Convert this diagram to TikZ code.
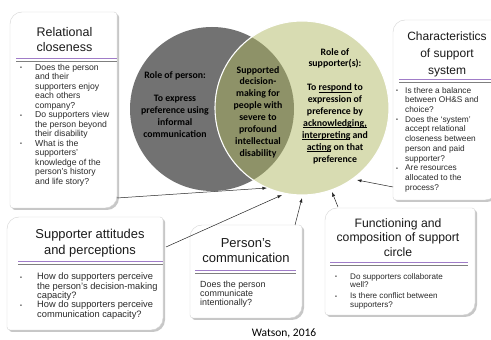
\documentclass[tikz,border=0pt]{standalone}
\usepackage{fontspec}
\setmainfont{Liberation Sans}
\newfontfamily\calfont{Carlito}
\usetikzlibrary{arrows.meta,shadows}
\definecolor{gcirc}{HTML}{727272}
\definecolor{ocirc}{HTML}{D8DCB2}
\definecolor{ovl}{HTML}{8E9268}
\definecolor{sepp}{HTML}{A07CC8}
\definecolor{sepg}{HTML}{7F7F7F}
\definecolor{txt}{HTML}{2A2A2A}
\definecolor{ttl}{HTML}{1A1A1A}
\definecolor{bord}{HTML}{D4D4D4}
\newcommand\bul{\raisebox{0.6pt}{\fontsize{5.5}{5.5}\selectfont\textbullet}}
\newcommand\uln[1]{\setbox0\hbox{#1}\rlap{\copy0}\rule[-1.4pt]{\wd0}{0.5pt}}
\newcommand\rbox[4]{%
  \path[boxst] (#1pt,{#4pt+3pt}) -- (#1pt,{#2pt-12pt})
    arc[start angle=180,end angle=90,radius=12pt] -- ({#3pt-3pt},#2pt)
    arc[start angle=90,end angle=0,radius=3pt] -- (#3pt,{#4pt+12pt})
    arc[start angle=0,end angle=-90,radius=12pt] -- ({#1pt+3pt},#4pt)
    arc[start angle=270,end angle=180,radius=3pt] -- cycle;}
\newcommand\sepline[3]{%
  \draw[sepp,line width=0.9pt] (#1pt,#3pt) -- (#2pt,#3pt);
  \draw[sepg,line width=0.9pt] (#1pt,{#3pt-3.5pt}) -- (#2pt,{#3pt-3.5pt});}
\tikzset{
  boxst/.style={fill=white,draw=bord,line width=0.4pt,
    drop shadow={shadow xshift=2pt,shadow yshift=-2pt,opacity=0.22,fill=black}},
  ctext/.style={align=center,inner sep=0pt,anchor=north,text=black,
    font=\calfont\bfseries\fontsize{9.8}{11.9}\selectfont},
  ttext/.style={align=center,inner sep=0pt,anchor=north,text=ttl},
  btext/.style={inner sep=0pt,anchor=north west,text=txt},
  conn/.style={draw=black!85,line width=0.5pt,-{Latex[length=4.5pt,width=3.2pt]}}
}
\begin{document}
\begin{tikzpicture}[x=1pt,y=1pt]
\useasboundingbox[fill=white] (0,0) rectangle (491,340);
% circles
\fill[gcirc] (212,231) circle[radius=82];
\fill[ocirc] (302,232) circle[radius=87];
\begin{scope}
  \clip (212,231) circle[radius=82];
  \fill[ovl] (302,232) circle[radius=87];
\end{scope}
\draw[white,line width=1.1pt] (302,232) circle[radius=87];
\node[ctext] (person) at (175,269) {Role of person:\\[11.9pt]To express\\preference using\\informal\\communication};
\node[ctext] (sdm) at (258,274) {Supported\\decision-\\making for\\people with\\severe to\\profound\\intellectual\\disability};
\node[ctext] (supp) at (335,292) {Role of\\supporter(s):\\[11.9pt]To \uln{respond} to\\expression of\\preference by\\\uln{acknowledging,}\\\uln{interpreting} and\\\uln{acting} on that\\preference};
% boxes
\rbox{10}{328}{117}{132}
\rbox{393}{320}{497}{140}
\rbox{7}{123}{163}{10}
\rbox{190}{115}{302}{22}
\rbox{325}{132}{475}{25}
% box 1
\node[ttext,font=\fontsize{12.5}{15}\selectfont] (t1) at (64.5,313) {Relational\\closeness};
\sepline{16}{117}{282}
\node[btext,font=\fontsize{8.66}{9.5}\selectfont] (b1) at (20,276.7) {\begin{tabular}{@{}p{15pt}@{}l@{}}
\bul & Does the person\\ & and their\\ & supporters enjoy\\ & each others\\ & company?\\
\bul & Do supporters view\\ & the person beyond\\ & their disability\\
\bul & What is the\\ & supporters’\\ & knowledge of the\\ & person’s history\\ & and life story?
\end{tabular}};
% box 2
\node[ttext,font=\fontsize{12}{17}\selectfont] (t2) at (447,308.5) {Characteristics\\of support\\system};
\sepline{399}{497}{261}
\node[btext,font=\fontsize{8.3}{9.7}\selectfont] (b2) at (396,253.8) {\begin{tabular}{@{}p{9pt}@{}l@{}}
\bul & Is there a balance\\ & between OH\&S and\\ & choice?\\
\bul & Does the ‘system’\\ & accept relational\\ & closeness between\\ & person and paid\\ & supporter?\\
\bul & Are resources\\ & allocated to the\\ & process?
\end{tabular}};
% box 3
\node[ttext,font=\fontsize{12.9}{16}\selectfont] (t3) at (90,111) {Supporter attitudes\\and perceptions};
\sepline{18}{163}{79}
\node[btext,font=\fontsize{9.3}{8.75}\selectfont] (b3) at (20,67.1) {\begin{tabular}{@{}p{17pt}@{}l@{}}
\bul & How do supporters perceive\\ & the person’s decision-making\\ & capacity?\\
\bul & How do supporters perceive\\ & communication capacity?
\end{tabular}};
% box 4
\node[ttext,font=\fontsize{13}{15}\selectfont] (t4) at (246,102) {Person’s\\communication};
\sepline{195}{296}{70}
\node[btext,font=\fontsize{8.9}{9}\selectfont] (b4) at (200,59.3) {\begin{tabular}{@{}l@{}}
Does the person\\communicate\\intentionally?
\end{tabular}};
% box 5
\node[ttext,font=\fontsize{12.2}{14.5}\selectfont] (t5) at (398,122) {Functioning and\\composition of support\\circle};
\sepline{330}{468}{78}
\node[btext,font=\fontsize{8.1}{8.5}\selectfont] (b5) at (335,67) {\begin{tabular}{@{}p{15pt}@{}l@{}}
\bul & Do supporters collaborate\\ & well?\\[2.5pt]
\bul & Is there conflict between\\ & supporters?
\end{tabular}};
% source
\node[inner sep=0pt,anchor=base,font=\calfont\fontsize{11.5}{14}\selectfont] (src) at (284,3) {Watson, 2016};
% connectors
\coordinate (s1) at (117,142); \coordinate (e1) at (267,152);
\coordinate (s2) at (393,153); \coordinate (e2) at (357,160);
\coordinate (s3) at (166,93);  \coordinate (e3) at (282,145);
\coordinate (s4) at (295,115); \coordinate (e4) at (302,142);
\coordinate (s5) at (338,133); \coordinate (e5) at (332,148);
\draw[conn] (s1) -- (e1);
\draw[conn] (s2) -- (e2);
\draw[conn] (s3) -- (e3);
\draw[conn] (s4) -- (e4);
\draw[conn] (s5) -- (e5);
\end{tikzpicture}
\end{document}
